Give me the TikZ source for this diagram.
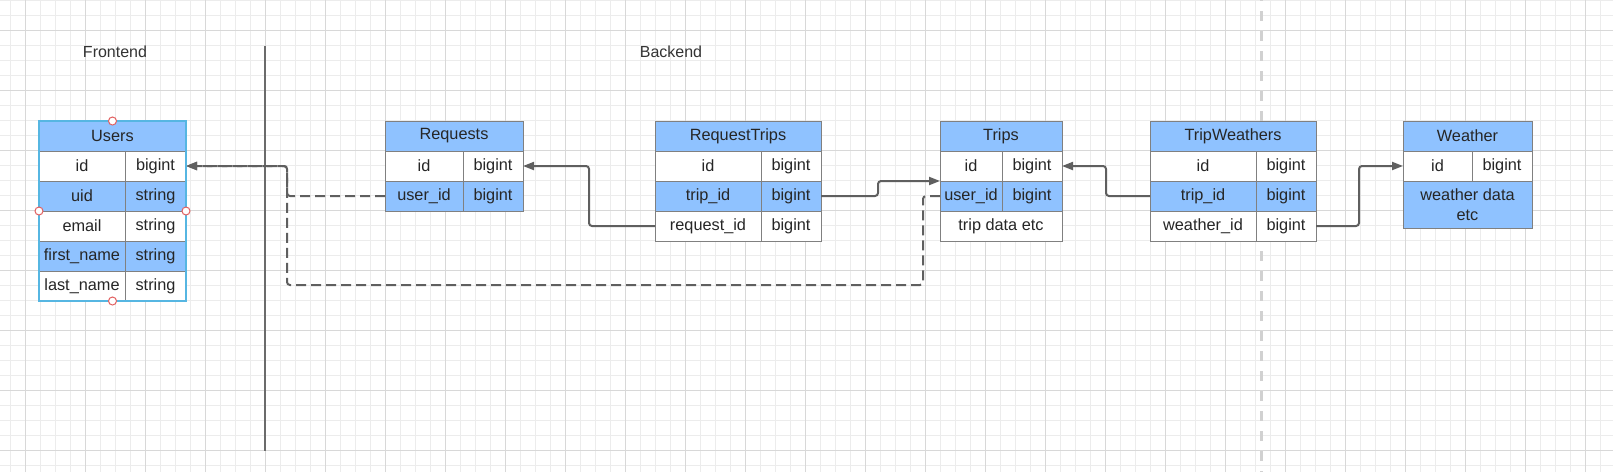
\documentclass[tikz,border=0pt]{standalone}
\usepackage{fontspec}
\setmainfont{Liberation Sans}
\usepackage{tikz}
\usetikzlibrary{positioning, arrows.meta}
\definecolor{hdr}{RGB}{143,194,255}
\definecolor{tblline}{RGB}{128,128,128}
\definecolor{conn}{RGB}{95,95,95}
\definecolor{minorgrid}{RGB}{236,236,236}
\definecolor{majorgrid}{RGB}{216,216,216}
\definecolor{selblue}{RGB}{86,182,226}
\definecolor{handle}{RGB}{226,96,96}
\newcommand{\cellfont}{\fontsize{16.3}{20}\selectfont}

\begin{document}
\begin{tikzpicture}[
  x=1pt, y=-1pt,
  cell/.style={draw=tblline, line width=1pt, minimum height=30pt, inner sep=0pt, outer sep=0pt, font=\cellfont, text=black!85},
  hd/.style={cell, fill=hdr, anchor=north west},
  key/.style={cell, fill=hdr},
  col/.style={cell, fill=white},
  fk/.style={draw=conn, line width=2pt, rounded corners=3pt, -{Triangle[length=11pt,width=8pt]}},
  ref/.style={fk, dash pattern=on 10pt off 5pt},
  zone/.style={font=\fontsize{16}{19}\selectfont, text=black!80}
]
\useasboundingbox (0,0) rectangle (1613,472);
\fill[white] (0,0) rectangle (1613,472);

% grid paper
\draw[minorgrid, line width=1pt, shift={(10,0)}] (-10,472) grid[step=15pt] (1603,0);
\draw[majorgrid, line width=1pt, shift={(25,30)}] (-25,442) grid[step=60pt] (1588,-30);

\draw[black!18, line width=3pt, dash pattern=on 10pt off 10pt, dash phase=9pt] (1261,0) -- (1261,472);
\draw[black!58, line width=2pt] (265,46) -- (265,451);   % frontend | backend

\node[zone] (fe) at (115,52) {Frontend};
\node[zone] (be) at (671,52) {Backend};

% Users
\node[hd, minimum width=147pt] (usr) at (39,121) {Users};
\node[col, minimum width=86pt, below right=0pt of usr.south west] (usr-id) {id};
\node[col, minimum width=61pt, right=0pt of usr-id] (usr-idt) {bigint};
\node[key, minimum width=86pt, below right=0pt of usr-id.south west] (usr-uid) {uid};
\node[key, minimum width=61pt, right=0pt of usr-uid] (usr-uidt) {string};
\node[col, minimum width=86pt, below right=0pt of usr-uid.south west] (usr-em) {email};
\node[col, minimum width=61pt, right=0pt of usr-em] (usr-emt) {string};
\node[key, minimum width=86pt, below right=0pt of usr-em.south west] (usr-fn) {first\_name};
\node[key, minimum width=61pt, right=0pt of usr-fn] (usr-fnt) {string};
\node[col, minimum width=86pt, below right=0pt of usr-fn.south west] (usr-ln) {last\_name};
\node[col, minimum width=61pt, right=0pt of usr-ln] (usr-lnt) {string};

% Requests
\node[hd, minimum width=138pt] (rq) at (385,121) {Requests};
\node[col, minimum width=78pt, below right=0pt of rq.south west] (rq-id) {id};
\node[col, minimum width=60pt, right=0pt of rq-id] (rq-idt) {bigint};
\node[key, minimum width=78pt, below right=0pt of rq-id.south west] (rq-user) {user\_id};
\node[key, minimum width=60pt, right=0pt of rq-user] (rq-usert) {bigint};

% RequestTrips
\node[hd, minimum width=166pt] (rt) at (655,121) {RequestTrips};
\node[col, minimum width=106pt, below right=0pt of rt.south west] (rt-id) {id};
\node[col, minimum width=60pt, right=0pt of rt-id] (rt-idt) {bigint};
\node[key, minimum width=106pt, below right=0pt of rt-id.south west] (rt-trip) {trip\_id};
\node[key, minimum width=60pt, right=0pt of rt-trip] (rt-tript) {bigint};
\node[col, minimum width=106pt, below right=0pt of rt-trip.south west] (rt-req) {request\_id};
\node[col, minimum width=60pt, right=0pt of rt-req] (rt-reqt) {bigint};

% Trips
\node[hd, minimum width=122pt] (trp) at (940,121) {Trips};
\node[col, minimum width=62pt, below right=0pt of trp.south west] (trp-id) {id};
\node[col, minimum width=60pt, right=0pt of trp-id] (trp-idt) {bigint};
\node[key, minimum width=62pt, below right=0pt of trp-id.south west] (trp-user) {user\_id};
\node[key, minimum width=60pt, right=0pt of trp-user] (trp-usert) {bigint};
\node[col, minimum width=122pt, below right=0pt of trp-user.south west] (trp-data) {trip data etc};

% TripWeathers
\node[hd, minimum width=166pt] (tw) at (1150,121) {TripWeathers};
\node[col, minimum width=106pt, below right=0pt of tw.south west] (tw-id) {id};
\node[col, minimum width=60pt, right=0pt of tw-id] (tw-idt) {bigint};
\node[key, minimum width=106pt, below right=0pt of tw-id.south west] (tw-trip) {trip\_id};
\node[key, minimum width=60pt, right=0pt of tw-trip] (tw-tript) {bigint};
\node[col, minimum width=106pt, below right=0pt of tw-trip.south west] (tw-wth) {weather\_id};
\node[col, minimum width=60pt, right=0pt of tw-wth] (tw-wtht) {bigint};

% Weather
\node[hd, minimum width=129pt] (wth) at (1403,121) {Weather};
\node[col, minimum width=69pt, below right=0pt of wth.south west] (wth-id) {id};
\node[col, minimum width=60pt, right=0pt of wth-id] (wth-idt) {bigint};
\node[key, minimum width=129pt, minimum height=47pt, align=center, below right=0pt of wth-id.south west] (wth-data) {weather data\\etc};

% foreign keys
\draw[fk] (rt-req.west) -- ++(-66,0) |- (rq-idt.east);
\draw[fk] (rt-tript.east) -- ++(57,0) |- (trp-id.south west);
\draw[fk] (tw-trip.west) -- ++(-44,0) |- (trp-idt.east);
\draw[fk] (tw-wtht.east) -- ++(43,0) |- (wth-id.west);

\coordinate (jn) at (287,285);
\draw[ref] (rq-user.west) -- ++(-98,0) |- (usr-idt.east);
\draw[ref] (trp-user.west) -- ++(-17,0) |- (jn) |- (usr-idt.east);

% selected table
\draw[selblue, line width=1.5pt] (usr.north west) rectangle (usr-lnt.south east);
\draw[handle, fill=white, line width=1pt] (usr.north) circle[radius=4pt];
\draw[handle, fill=white, line width=1pt] (usr-em.north west) circle[radius=4pt];
\draw[handle, fill=white, line width=1pt] (usr-emt.north east) circle[radius=4pt];
\draw[handle, fill=white, line width=1pt] (usr.north |- usr-ln.south) circle[radius=4pt];
\end{tikzpicture}
\end{document}
